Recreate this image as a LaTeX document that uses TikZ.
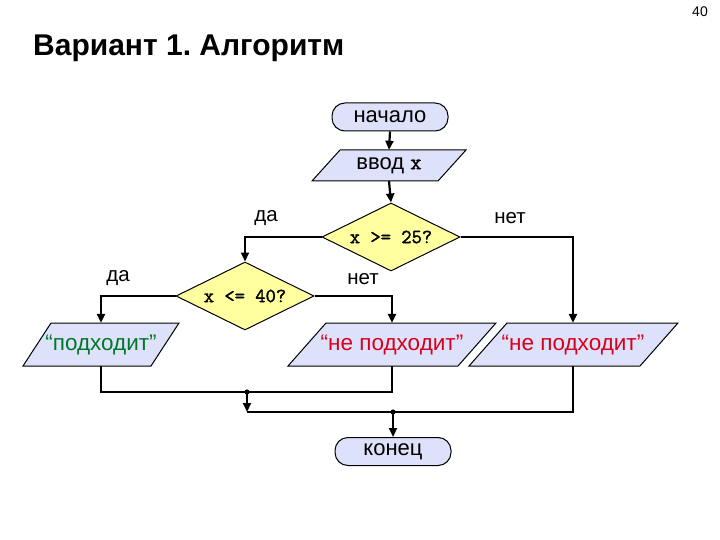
\documentclass[tikz,border=0pt]{standalone}
\usepackage{fontspec}
\setmainfont{Liberation Sans}
\newfontfamily\decfont[FakeBold=1.6]{Latin Modern Mono}
\usetikzlibrary{shapes.geometric,arrows.meta}
\definecolor{iofill}{RGB}{222,225,250}
\definecolor{decfill}{RGB}{255,255,160}
\definecolor{okgreen}{RGB}{0,120,40}
\definecolor{badred}{RGB}{215,0,30}
\frenchspacing
\begin{document}
\begin{tikzpicture}[x=1pt,y=-1pt,
 line/.style={line width=2.2pt},
 arr/.style={line width=2.2pt, -{Triangle[length=9pt,width=8pt]}},
 term/.style={draw, line width=1pt, fill=iofill, rounded corners=13pt, minimum width=116pt, minimum height=28pt, inner sep=0pt, font=\fontsize{22}{26}\selectfont},
 dec/.style={diamond, draw, line width=1pt, fill=decfill, aspect=2, inner sep=0pt, minimum width=138pt, minimum height=68pt, font=\fontsize{20}{22}\decfont},
 iotext/.style={inner sep=0pt, minimum height=43pt, minimum width=100pt, font=\fontsize{22.5}{26}\selectfont},
 iobox/.style={draw, line width=1pt, fill=iofill},
 lbl/.style={font=\fontsize{20.5}{24}\selectfont, inner sep=0pt}
]
\useasboundingbox (0,0) rectangle (720,540);
\fill[white] (0,0) rectangle (720,540);

\node[anchor=base west, font=\fontsize{30}{36}\selectfont\bfseries, inner sep=0pt] (title) at (33,56) {Вариант 1. Алгоритм};
\node[anchor=base east, font=\fontsize{14}{16}\selectfont, inner sep=0pt] (pg) at (708,17) {40};

% terminals
\node[term] (start) at (390,117) {начало};
\node[term] (end) at (393,451.5) {конец};

% input
\path[iobox] (340,150) -- (466,150) -- (438,181) -- (312,181) -- cycle;
\node[iotext, minimum height=31pt, font=\fontsize{22}{26}\selectfont] (inp) at (389,165.5) {ввод {\decfont x}};

% decisions
\node[dec] (d1) at (391,237) {x >= 25?};
\node[dec] (d2) at (245,296) {x <= 40?};

% outputs
\path[iobox] (51,323) -- (179,323) -- (151,366) -- (23,366) -- cycle;
\node[iotext, text=okgreen] (o1) at (101,344.5) {“подходит”};
\path[iobox] (326,323) -- (496,323) -- (458,366) -- (288,366) -- cycle;
\node[iotext, text=badred] (o2) at (392,344.5) {“не подходит”};
\path[iobox] (507,323) -- (678,323) -- (640,366) -- (469,366) -- cycle;
\node[iotext, text=badred] (o3) at (573,344.5) {“не подходит”};

% labels
\node[lbl] (l1) at (266,218) {да};
\node[lbl] (l2) at (510,218) {нет};
\node[lbl] (l3) at (118,278) {да};
\node[lbl] (l4) at (363,279) {нет};

% connectors
\draw[arr] (start.south) -- (inp.north);
\draw[arr] (inp.south) -- (d1.north);
\draw[arr] (d1.west) -| (d2.north);
\draw[arr] (d1.east) -| (o3.north);
\draw[arr] (d2.west) -| (o1.north);
\draw[arr] (d2.east) -| (o2.north);

\coordinate (j1) at (247,392);
\coordinate (m2) at (247,412);
\coordinate (j2) at (393,412);
\draw[line] (o1.south) |- (o2.south |- j1) -- (o2.south);
\fill (j1) circle (2.6pt);
\draw[arr] (j1) -- (m2);
\draw[line] (o3.south) |- (m2);
\fill (j2) circle (2.6pt);
\draw[arr] (j2) -- (end.north);
\end{tikzpicture}
\end{document}
